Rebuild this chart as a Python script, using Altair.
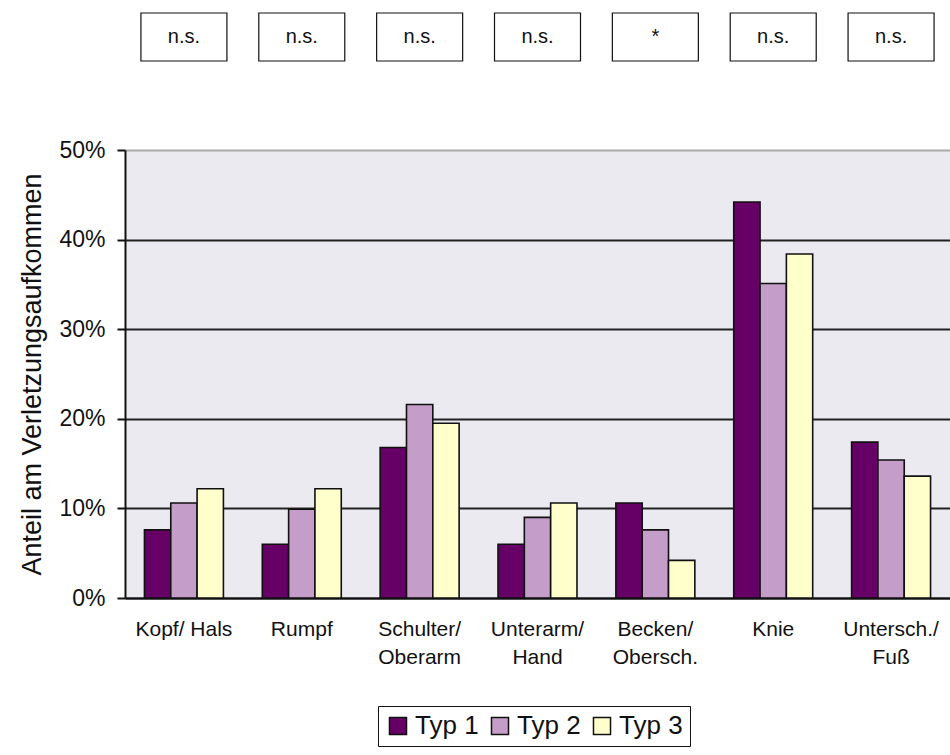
import altair as alt
import pandas as pd

# Body regions (use "|" to break the axis label into two lines)
regions = ["Kopf/ Hals", "Rumpf", "Schulter/|Oberarm", "Unterarm/|Hand",
           "Becken/|Obersch.", "Knie", "Untersch./|Fuß"]
types = ["Typ 1", "Typ 2", "Typ 3"]

# Share of injuries per region and type
typ1 = [0.076, 0.060, 0.168, 0.060, 0.106, 0.442, 0.174]
typ2 = [0.106, 0.099, 0.216, 0.090, 0.076, 0.351, 0.154]
typ3 = [0.122, 0.122, 0.195, 0.106, 0.042, 0.384, 0.136]

# Significance marks above each region
signif = ["n.s.", "n.s.", "n.s.", "n.s.", "*", "n.s.", "n.s."]

colors = ["#660066", "#C49DC8", "#FFFFCC"]

rows = []
for series, vals in zip(types, [typ1, typ2, typ3]):
    for r, v in zip(regions, vals):
        rows.append({"Region": r, "Typ": series, "Anteil": v})
df = pd.DataFrame(rows)
sig_df = pd.DataFrame({"Region": regions, "Sig": signif})

FONT = "Liberation Sans"

x_enc = alt.X(
    "Region:N", sort=regions,
    scale=alt.Scale(domain=regions, paddingInner=0.33, paddingOuter=0.165),
    axis=alt.Axis(
        title=None, labelAngle=0, labelExpr="split(datum.label, '|')",
        labelFont=FONT, labelFontSize=21, labelColor="#111",
        labelLineHeight=28, labelPadding=20, ticks=False,
        domainColor="#111", domainWidth=2,
    ),
)

bars = alt.Chart(df).mark_bar(stroke="#111", strokeWidth=1.6).encode(
    x=x_enc,
    xOffset=alt.XOffset("Typ:N", sort=types, scale=alt.Scale(domain=types)),
    y=alt.Y(
        "Anteil:Q",
        scale=alt.Scale(domain=[0, 0.5], nice=False),
        axis=alt.Axis(
            title="Anteil am Verletzungsaufkommen", format=".0%",
            values=[0, 0.1, 0.2, 0.3, 0.4, 0.5],
            labelFont=FONT, labelFontSize=23, labelColor="#111", labelPadding=12,
            titleFont=FONT, titleFontSize=27, titleFontWeight="normal",
            titleColor="#111", titlePadding=12,
            tickSize=8, tickColor="#111", tickWidth=2,
            domainColor="#111", domainWidth=2,
            grid=True, gridWidth=2,
            gridColor={"condition": {"test": "datum.value >= 0.5", "value": "#AAAAAA"},
                       "value": "#222222"},
        ),
    ),
    color=alt.Color(
        "Typ:N", sort=types,
        scale=alt.Scale(domain=types, range=colors),
        legend=alt.Legend(
            title=None, orient="none", legendX=253, legendY=556,
            direction="horizontal", columns=3,
            symbolType="square", symbolSize=290, symbolStrokeColor="#111",
            symbolStrokeWidth=1.5, symbolOpacity=1,
            labelFont=FONT, labelFontSize=26, labelColor="#111",
            labelOffset=4, columnPadding=8,
            strokeColor="#111", padding=7, fillColor="white",
        ),
    ),
)

boxes = alt.Chart(sig_df).mark_bar(
    width=86, fill="white", stroke="#111", strokeWidth=1.2
).encode(
    x=alt.X("Region:N", sort=regions),
    y=alt.value(-137),
    y2=alt.value(-89),
)

labels = alt.Chart(sig_df).mark_text(
    font=FONT, fontSize=20, color="#111", baseline="middle", align="center"
).encode(
    x=alt.X("Region:N", sort=regions),
    y=alt.value(-113),
    text="Sig:N",
)

chart = alt.layer(bars, boxes, labels).properties(
    width=825, height=448,
    padding={"left": 125, "top": 150, "right": 0, "bottom": 157},
    autosize="none",
    background="white",
).configure_view(
    fill="#EBEAF0", stroke=None
)

chart.save("out.html", embed_options={"renderer": "svg", "actions": False})
